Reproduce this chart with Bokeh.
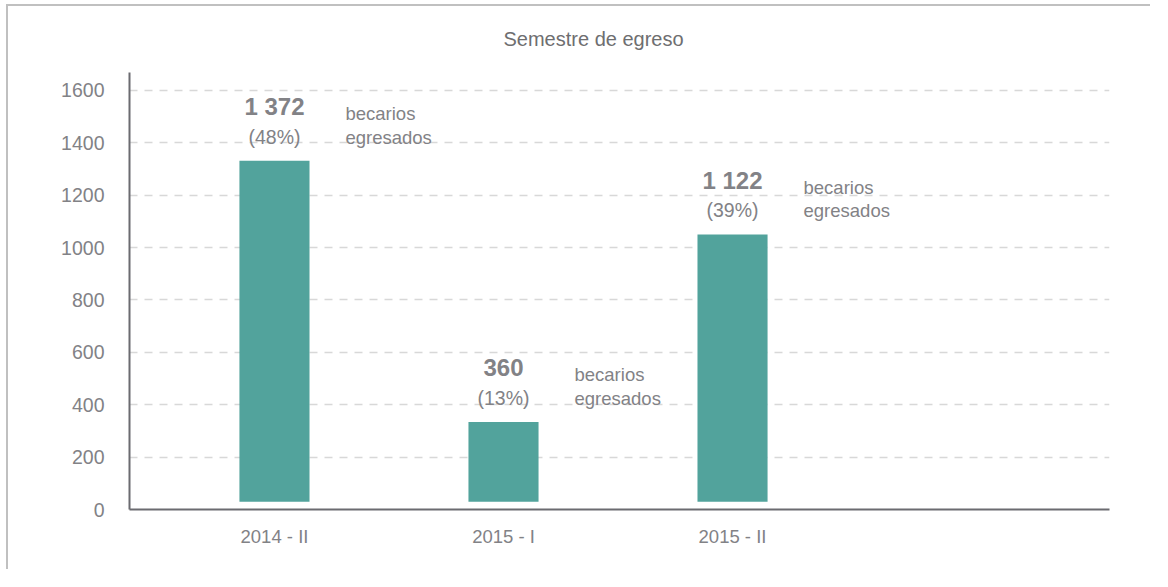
from bokeh.plotting import figure
from bokeh.models import Range1d, FixedTicker, ColumnDataSource
from bokeh.embed import file_html
from bokeh.resources import INLINE
from bokeh.core.properties import value

# ---- data ----
categories = ["2014 - II", "2015 - I", "2015 - II"]
egresados = [1372, 360, 1122]          # labelled counts
porcentajes = [48, 13, 39]             # labelled shares (%)
bar_tops = [1331, 334, 1050]           # bar tops as drawn on the value axis
y_ticks = [0, 200, 400, 600, 800, 1000, 1200, 1400, 1600]
title_text = "Semestre de egreso"
note_line1 = "becarios"
note_line2 = "egresados"

# ---- styles ----
FONT = "Liberation Sans"
GRAY = "#828286"
AXIS = "#6b6b70"
TEAL = "#52a39c"
BAR_BASE = 30
BAR_WIDTH = 0.306

xs = list(range(len(categories)))
src = ColumnDataSource(dict(
    x=xs,
    top=bar_tops,
    val=[f"{v:,}".replace(",", " ") for v in egresados],
    pct=[f"({p}%)" for p in porcentajes],
    l1=[note_line1] * len(xs),
    l2=[note_line2] * len(xs),
))

p = figure(width=1144, height=565,
           x_range=Range1d(-0.633, 3.646), y_range=Range1d(0, 1668),
           output_backend="svg", toolbar_location=None,
           min_border_left=121, min_border_right=43,
           min_border_top=65, min_border_bottom=62)
p.styles = {"border-top": "2px solid #c0c0c0", "border-left": "2px solid #c0c0c0",
            "margin-top": "4px", "margin-left": "6px"}
p.outline_line_color = None
p.background_fill_color = "white"
p.border_fill_color = "white"

p.title.text = title_text
p.title.align = "left"
p.title.offset = 374
p.title.standoff = 42
p.title.vertical_align = "top"
p.title.text_font = FONT
p.title.text_font_size = "20px"
p.title.text_font_style = "normal"
p.title.text_color = "#6e6e70"

p.vbar(x="x", top="top", bottom=BAR_BASE, width=BAR_WIDTH, source=src,
       fill_color=TEAL, line_color=None)

common = dict(source=src, text_font=value(FONT), text_color=GRAY, text_baseline="alphabetic")
p.text(x="x", y="top", text="val", text_align="center", y_offset=-54,
       text_font_style="bold", text_font_size="24px", **common)
p.text(x="x", y="top", text="pct", text_align="center", y_offset=-24,
       text_font_size="19.5px", **common)
p.text(x="x", y="top", text="l1", text_align="left", x_offset=71, y_offset=-47,
       text_font_size="18.5px", **common)
p.text(x="x", y="top", text="l2", text_align="left", x_offset=71, y_offset=-23.5,
       text_font_size="18.5px", **common)

for ax in (p.xaxis[0], p.yaxis[0]):
    ax.axis_line_color = AXIS
    ax.axis_line_width = 2
    ax.major_tick_line_color = None
    ax.minor_tick_line_color = None
    ax.major_tick_out = 0
    ax.major_tick_in = 0
    ax.major_label_text_font = FONT
    ax.major_label_text_color = GRAY

p.yaxis.ticker = FixedTicker(ticks=y_ticks)
p.yaxis.major_label_standoff = 25
p.yaxis.major_label_text_font_size = "19.5px"
p.xaxis.ticker = FixedTicker(ticks=xs)
p.xaxis.major_label_overrides = {i: c for i, c in zip(xs, categories)}
p.xaxis.major_label_standoff = 16
p.xaxis.major_label_text_font_size = "18.5px"

p.ygrid.ticker = FixedTicker(ticks=y_ticks)
p.ygrid.grid_line_color = "#d8d8d8"
p.ygrid.grid_line_dash = "8 7"
p.ygrid.grid_line_width = 1.5
p.xgrid.grid_line_color = None

open("out.html", "w").write(file_html(p, INLINE))
